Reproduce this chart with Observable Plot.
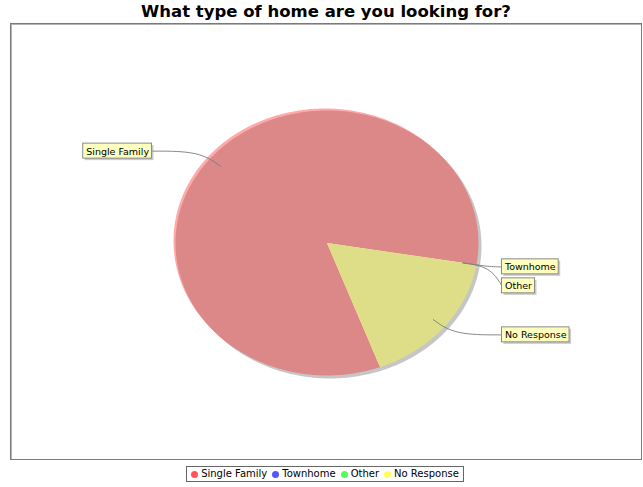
<!DOCTYPE html>
<html>
<head>
<meta charset="utf-8">
<script src="https://cdn.jsdelivr.net/npm/d3@7"></script>
<script src="https://cdn.jsdelivr.net/npm/@observablehq/plot@0.6"></script>
<style>
  body { margin: 0; background: #fff; font-family: "DejaVu Sans", sans-serif; }
  #page { position: relative; width: 643px; height: 487px; overflow: hidden; background: #fff; }
  #title { position: absolute; left: 10px; width: 632px; top: 2px; text-align: center;
           font-weight: bold; font-size: 16.5px; line-height: 20px; color: #000; }
  #chart { position: absolute; left: 10px; top: 23px; }
  #frame { position: absolute; left: 10px; top: 23px; width: 632px; height: 437px;
           box-sizing: border-box; border: 1px solid #7a7a7a;
           box-shadow: inset 1px 1px 0 #b4b4b4; pointer-events: none; }
  #legendWrap { position: absolute; left: 10px; width: 630px; top: 466px; display: flex; justify-content: center; }
  #legend { display: inline-flex; align-items: center; height: 14px; border: 1px solid #666;
            padding: 0 4px 0 4px; font-size: 10px; line-height: 12px; color: #000; background: #fff; }
  #legend .item { display: inline-flex; align-items: center; margin-right: 5px; }
  #legend .item:last-child { margin-right: 0; }
  #legend .dot { width: 7px; height: 7px; border-radius: 50%; margin-right: 3px; }
</style>
</head>
<body>
<div id="page">
  <div id="title"></div>
  <div id="chart"></div>
  <div id="frame"></div>
  <div id="legendWrap"><div id="legend"></div></div>
</div>
<script>
// ---- data ----
const chartTitle = "What type of home are you looking for?";
const categories = ["Single Family", "Townhome", "Other", "No Response"];
const counts = [5, 0, 0, 1];
const sliceColors = ["#dc8888", "#8888dc", "#88dc88", "#dede88"];
const rimColors = ["#ffaaaa", "#aaaaff", "#aaffaa", "#ffffaa"];
const legendColors = ["#ff5555", "#5555ff", "#55ff55", "#ffff55"];

// ---- layout ----
const W = 632, H = 437;
const M = {left: 165, right: 164, top: 87, bottom: 85};
const kx = (W - M.left - M.right) / 2;   // px per unit
const ky = (H - M.top - M.bottom) / 2;
const startDeg = 159.5;
const anchorR = 0.91, linkR = 1.09, labelX = 1.155;
const fontSize = 9.5, fontFamily = "DejaVu Sans";

document.getElementById("title").textContent = chartTitle;

const arcs = d3.pie().sort(null)
  .startAngle(startDeg * Math.PI / 180)
  .endAngle(startDeg * Math.PI / 180 + 2 * Math.PI)(counts);

// slice polygons
const poly = [];
arcs.forEach((a, i) => {
  if (counts[i] <= 0) return;
  const cat = categories[i];
  const base = {cat, color: sliceColors[i], rim: rimColors[i]};
  poly.push({...base, x: 0, y: 0});
  const n = Math.max(2, Math.ceil((a.endAngle - a.startAngle) / (Math.PI / 360)));
  for (let k = 0; k <= n; k++) {
    const t = a.startAngle + (a.endAngle - a.startAngle) * k / n;
    poly.push({...base, x: Math.sin(t), y: Math.cos(t)});
  }
  poly.push({...base, x: 0, y: 0});
});

// labels
const ctx = document.createElement("canvas").getContext("2d");
ctx.font = `${fontSize}px "${fontFamily}"`;
const labels = arcs.map((a, i) => {
  const m = (a.startAngle + a.endAngle) / 2;
  const side = Math.sin(m) >= 0 ? 1 : -1;
  return {
    cat: categories[i], i, side,
    ax: Math.sin(m) * anchorR, ay: Math.cos(m) * anchorR,
    ex: Math.sin(m) * linkR, ey: Math.cos(m) * linkR,
    y: Math.cos(m) * linkR,
    w: (ctx.measureText(categories[i]).width + 6) / kx
  };
});
const minGap = 19 / ky;
for (const s of [1, -1]) {
  const g = labels.filter(d => d.side === s).sort((a, b) => b.y - a.y || a.i - b.i);
  for (let k = 1; k < g.length; k++) {
    if (g[k - 1].y - g[k].y < minGap) g[k].y = g[k - 1].y - minGap;
  }
}
labels.forEach(d => {
  d.x1 = d.side > 0 ? labelX : -labelX - d.w;
  d.x2 = d.side > 0 ? labelX + d.w : -labelX;
  d.y1 = d.y - 7.5 / ky;
  d.y2 = d.y + 7.5 / ky;
  d.tx = (d.x1 + d.x2) / 2;
  d.edgeX = d.side > 0 ? labelX : -labelX;
});
const links = [];
labels.forEach(d => {
  links.push({cat: d.cat, x: d.ax, y: d.ay});
  links.push({cat: d.cat, x: d.ex, y: d.ey});
  links.push({cat: d.cat, x: d.edgeX, y: d.y});
});

const chart = Plot.plot({
  width: W, height: H,
  marginLeft: M.left, marginRight: M.right, marginTop: M.top, marginBottom: M.bottom,
  x: {domain: [-1, 1], axis: null},
  y: {domain: [-1, 1], axis: null},
  color: {type: "identity"},
  style: {background: "transparent", overflow: "visible"},
  marks: [
    Plot.line(poly, {x: "x", y: "y", z: "cat", fill: "#c6c6c6", stroke: null, dx: 3, dy: 3, curve: "linear"}),
    Plot.line(poly, {x: "x", y: "y", z: "cat", fill: "rim", stroke: null, dx: -2, dy: -2, curve: "linear"}),
    Plot.line(poly, {x: "x", y: "y", z: "cat", fill: "color", stroke: null, curve: "linear"}),
    Plot.line(links, {x: "x", y: "y", z: "cat", stroke: "#7c7c7c", strokeWidth: 0.9, curve: "basis"}),
    Plot.rect(labels, {x1: "x1", x2: "x2", y1: "y1", y2: "y2", fill: "#979797", fillOpacity: 0.5, dx: 2, dy: 2}),
    Plot.rect(labels, {x1: "x1", x2: "x2", y1: "y1", y2: "y2", fill: "#ffffc0", stroke: "#8a8a8a", strokeWidth: 1}),
    Plot.text(labels, {x: "tx", y: "y", text: "cat", fill: "#000", fontSize, fontFamily, textAnchor: "middle", dy: 0.5})
  ]
});
document.getElementById("chart").appendChild(chart);

// legend
const legend = d3.select("#legend");
categories.forEach((c, i) => {
  const it = legend.append("span").attr("class", "item");
  it.append("span").attr("class", "dot").style("background", legendColors[i]);
  it.append("span").text(c);
});
</script>
</body>
</html>
